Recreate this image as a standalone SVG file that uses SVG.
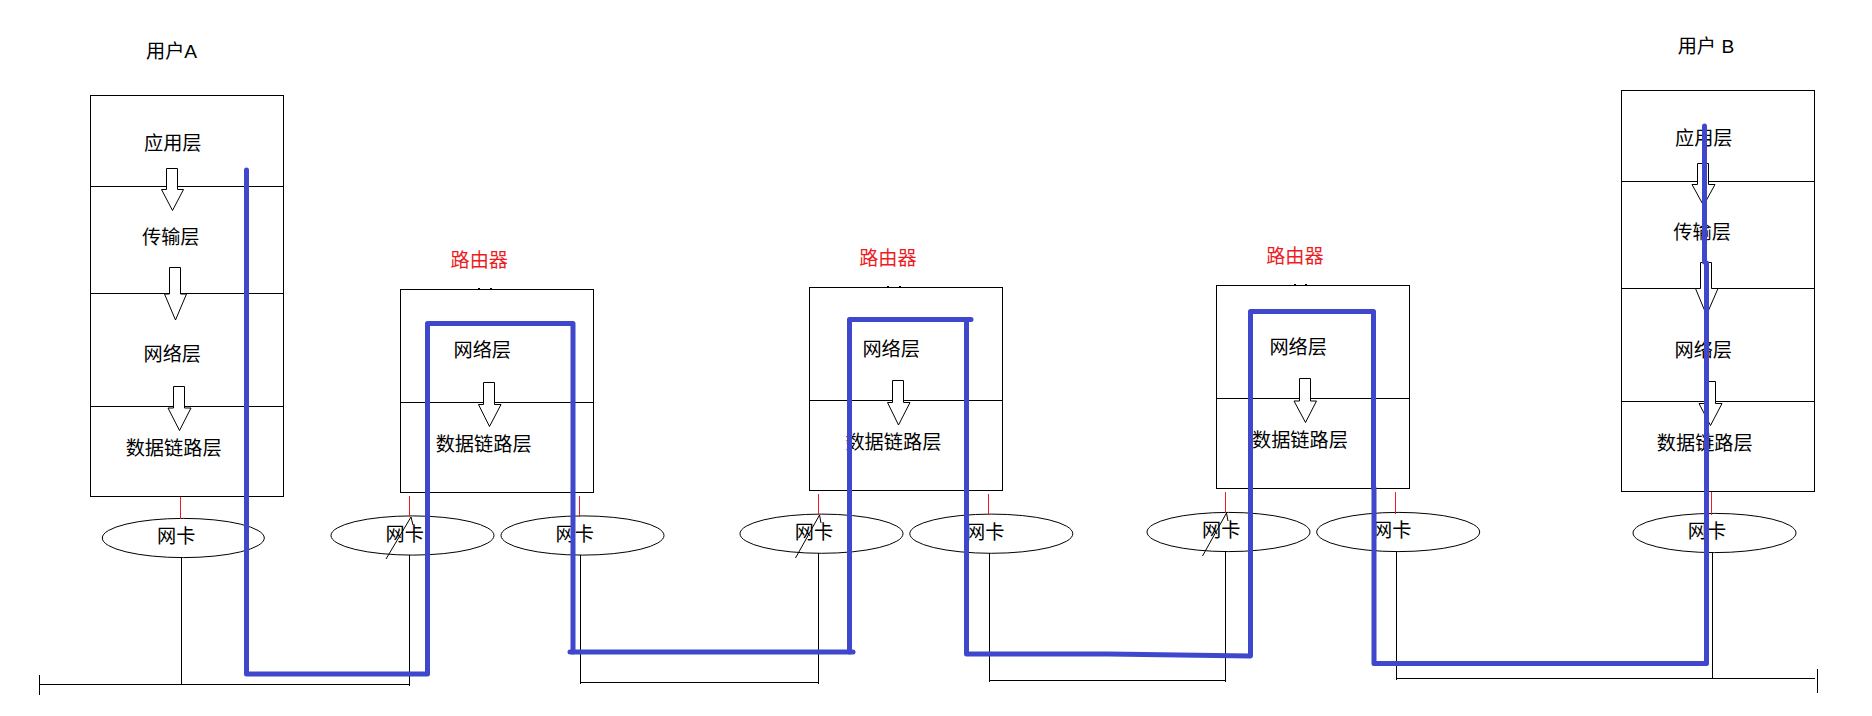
<svg xmlns="http://www.w3.org/2000/svg" width="1872" height="716" viewBox="0 0 1872 716">
<style>
text{font-family:"Liberation Sans","Noto Sans CJK SC",sans-serif;font-size:19.2px;fill:#000}
.r{fill:#ed1c24}
.b{fill:none;stroke:#000;stroke-width:1.2;shape-rendering:crispEdges}
.a{fill:#fff;stroke:#000;stroke-width:1}
.e{fill:#fff;stroke:#000;stroke-width:1}
.k{stroke:#000;stroke-width:1.2;fill:none;shape-rendering:crispEdges}
.s{stroke:#000;stroke-width:1;fill:none}
.t{stroke:#ed1c24;stroke-width:1.2;fill:none;shape-rendering:crispEdges}
.u{stroke:#3f48cc;stroke-width:5;fill:none;stroke-linejoin:round;stroke-linecap:round}
</style>
<rect width="1872" height="716" fill="#fff"/>
<g id="userA">
<text x="146" y="58">用户A</text>
<rect class="b" x="90.5" y="95.5" width="193" height="401"/>
<path class="b" d="M90 186.5H284M90 293.5H284M90 406.5H284"/>
<text x="144" y="150">应用层</text><text x="142" y="244">传输层</text><text x="143.500" y="361">网络层</text><text x="125.700" y="455">数据链路层</text>
<path class="a" d="M166.500 168.500H177.500V189.500H183.500L172.500 210.500L161.500 189.500H166.500Z"/>
<path class="a" d="M169.500 267.500H180.500V294H186.500L175.500 320L164.500 294H169.500Z"/>
<path class="a" d="M173.500 386.500H184.500V408H191L179.500 430.500L168 408H173.500Z"/>
<ellipse class="e" cx="183.300" cy="538" rx="81" ry="19.600"/>
<text x="157" y="543">网卡</text>
</g>
<g id="router1">
<text class="r" x="450.500" y="266.500">路由器</text>
<rect class="b" x="400.500" y="289.500" width="193" height="203"/>
<path class="b" d="M400 402.500H594M479 288V289M491 288V289"/>
<text x="453.500" y="357">网络层</text><text x="435.700" y="451">数据链路层</text>
<path class="a" d="M483.500 382.500H494.500V404.500H501L489.500 426.500L478.500 404.500H483.500Z"/>
<ellipse class="e" cx="412.500" cy="535.500" rx="81.500" ry="19.600"/>
<text x="385.500" y="541">网卡</text>
<ellipse class="e" cx="582.500" cy="535.500" rx="81.500" ry="19.600"/>
<text x="555.500" y="541">网卡</text>
</g>
<g id="router2">
<text class="r" x="859.200" y="265">路由器</text>
<rect class="b" x="809.500" y="287.500" width="193" height="203"/>
<path class="b" d="M809 400.500H1003M888 286V287M900 286V287"/>
<text x="862.400" y="355.500">网络层</text><text x="845.400" y="449">数据链路层</text>
<path class="a" d="M892.500 380.500H903.500V402.500H910L898.500 425L887.500 402.500H892.500Z"/>
<ellipse class="e" cx="821.500" cy="533.700" rx="81.500" ry="19.600"/>
<text x="794.800" y="539">网卡</text>
<ellipse class="e" cx="991.300" cy="533.700" rx="81.500" ry="19.600"/>
<text x="966" y="539">网卡</text>
</g>
<g id="router3">
<text class="r" x="1266.200" y="263">路由器</text>
<rect class="b" x="1216.500" y="285.500" width="193" height="203"/>
<path class="b" d="M1216 398.500H1410M1295 284V285M1306 284V285"/>
<text x="1269.400" y="353.500">网络层</text><text x="1252" y="447">数据链路层</text>
<path class="a" d="M1299.500 378.500H1310.500V401H1316.500L1305.500 422.500L1294 401H1299.500Z"/>
<ellipse class="e" cx="1228.500" cy="532" rx="81.500" ry="19.600"/>
<text x="1202" y="537">网卡</text>
<ellipse class="e" cx="1398.200" cy="532" rx="81.500" ry="19.600"/>
<text x="1373" y="536.500">网卡</text>
</g>
<g id="userB">
<text x="1677.700" y="52.500">用户 B</text>
<rect class="b" x="1621.500" y="90.500" width="193" height="401"/>
<path class="b" d="M1621 181.500H1815M1621 288.500H1815M1621 401.500H1815"/>
<text x="1675" y="145">应用层</text><text x="1673.300" y="238.500">传输层</text><text x="1674.500" y="356.500">网络层</text><text x="1656.800" y="449.500">数据链路层</text>
<path class="a" d="M1697.500 163.500H1708.500V184.500H1715L1703.500 205.500L1692 184.500H1697.500Z"/>
<path class="a" d="M1700.500 262.500H1711.500V288.500H1718L1706.500 315L1695.500 288.500H1700.500Z"/>
<path class="a" d="M1704.500 381.500H1715.500V403.500H1722L1710.500 425.500L1699 403.500H1704.500Z"/>
<ellipse class="e" cx="1714.500" cy="533" rx="81.500" ry="19.600"/>
<text x="1687.800" y="537.500">网卡</text>
</g>
<g id="connectors">
<path class="t" d="M180.500 497V519M409.500 496V517M579.500 496V517M818.500 494V515M988.500 494V515M1225.500 492V513M1395.500 492V514M1711.500 492V515"/>
<path class="k" d="M181.500 557.500V684.500M409.500 555V686M580.500 555V684M818.500 553V684M989.500 553V682M1225.500 552V682M1396.500 552V680M1712.500 552.500V678.500"/>
<path class="k" d="M39.500 675V695M40 684.500H410M580 682.500H819M989 680.500H1226M1396 678.500H1815M1817.500 669V693"/>
<path class="s" d="M411 517L386 559M411 517L413 525M819.500 515L795.500 558M819.500 515L821 523M1226.500 513L1202.500 556M1226.500 513L1228 521"/>
<path class="u" d="M246.500 170V674H427.500V323.500H573V652"/>
<path class="u" d="M570 652H853"/>
<path class="u" d="M849.500 652V319.500H971"/>
<path class="u" d="M966.500 319.500V654H1108L1250.500 656V311.500H1373.500V488"/>
<path class="u" d="M1374 488V663.500H1706.500V263"/>
<path class="u" d="M1704.500 262V126"/>
</g>
</svg>
